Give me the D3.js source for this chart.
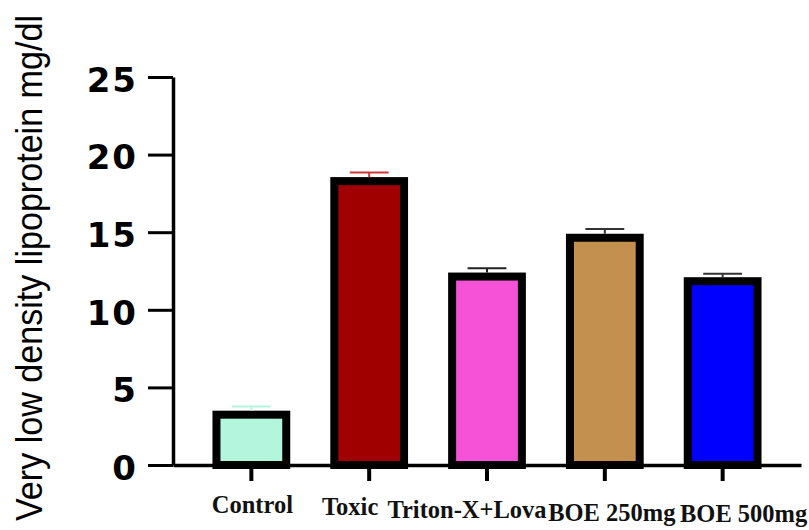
<!DOCTYPE html>
<html>
<head>
<meta charset="utf-8">
<script src="https://cdn.jsdelivr.net/npm/d3@7"></script>
<style>
  body { margin: 0; background: #fff; }
  svg { display: block; }
</style>
</head>
<body>
<div id="chart"></div>
<script>
var groups = ["Control", "Toxic", "Triton-X+Lova", "BOE 250mg", "BOE 500mg"];
var means = [3.5, 18.55, 12.4, 14.9, 12.1];
var errors = [0.27, 0.3, 0.27, 0.3, 0.22];
var fills = ["#b3f5dd", "#a00000", "#f552d8", "#c49050", "#0000ff"];
var errColors = ["#b3f5dd", "#cc3838", "#222222", "#333333", "#333333"];
var yTicks = [0, 5, 10, 15, 20, 25];
var yTitle = "Very low density lipoprotein mg/dl";

var width = 809, height = 530;
var plotLeft = 173, plotRight = 801, plotTop = 77, plotBottom = 465;
var borderW = 8;

// the category labels sit in a squeezed row, not centred on their ticks
var labelShift = [1, -19, -20, 7, 21];
var labelDrop = [0, 2, 5, 8, 9];

var svg = d3.select("#chart").append("svg")
  .attr("width", width)
  .attr("height", height);

var x = d3.scaleBand()
  .domain(groups)
  .range([plotLeft, plotRight])
  .paddingInner(0.34)
  .paddingOuter(0.335);

var y = d3.scaleLinear()
  .domain([0, 25])
  .range([plotBottom, plotTop]);

var bw = x.bandwidth();

// bars, border drawn inside so the outer edge sits on the value
svg.selectAll(".bar")
  .data(groups)
  .enter()
  .append("rect")
  .attr("class", "bar")
  .attr("x", function(d) { return x(d) + borderW / 2; })
  .attr("y", function(d, i) { return y(means[i]) + borderW / 2; })
  .attr("width", bw - borderW)
  .attr("height", function(d, i) { return y(0) - y(means[i]) - borderW / 2; })
  .attr("fill", function(d, i) { return fills[i]; })
  .attr("stroke", "#000")
  .attr("stroke-width", borderW);

// error bars (upper only)
var err = svg.selectAll(".err")
  .data(groups)
  .enter()
  .append("g")
  .attr("class", "err")
  .attr("stroke", function(d, i) { return errColors[i]; })
  .attr("stroke-width", 2);

err.append("line")
  .attr("x1", function(d) { return x(d) + bw / 2; })
  .attr("x2", function(d) { return x(d) + bw / 2; })
  .attr("y1", function(d, i) { return y(means[i]); })
  .attr("y2", function(d, i) { return y(means[i] + errors[i]); });

err.append("line")
  .attr("x1", function(d) { return x(d) + bw / 4; })
  .attr("x2", function(d) { return x(d) + bw * 3 / 4; })
  .attr("y1", function(d, i) { return y(means[i] + errors[i]); })
  .attr("y2", function(d, i) { return y(means[i] + errors[i]); });

// y axis
var yAxis = svg.append("g")
  .attr("transform", "translate(" + plotLeft + ",0)")
  .call(d3.axisLeft(y).tickValues(yTicks).tickSize(25).tickPadding(10).tickSizeOuter(0));

yAxis.select(".domain").attr("stroke-width", 3.5);
yAxis.selectAll(".tick line").attr("stroke-width", 3);
yAxis.selectAll(".tick text")
  .attr("fill", "#000")
  .attr("dy", "0.42em")
  .style("font-family", "'DejaVu Sans', Verdana, sans-serif")
  .style("font-weight", "bold")
  .style("font-size", "34px")
  .style("letter-spacing", "2px");

// x axis
var xAxis = svg.append("g")
  .attr("transform", "translate(0," + plotBottom + ")")
  .call(d3.axisBottom(x).tickSize(16).tickSizeOuter(0).tickFormat(""));

xAxis.select(".domain").attr("stroke-width", 3.5);
xAxis.selectAll(".tick line").attr("stroke-width", 4);

svg.selectAll(".xlabel")
  .data(groups)
  .enter()
  .append("text")
  .attr("class", "xlabel")
  .attr("x", function(d, i) { return x(d) + bw / 2 + labelShift[i]; })
  .attr("y", function(d, i) { return 513 + labelDrop[i]; })
  .attr("text-anchor", "middle")
  .style("font-family", "'Liberation Serif', 'Times New Roman', serif")
  .style("font-weight", "bold")
  .style("font-size", "24.5px")
  .style("fill", "#111")
  .text(function(d) { return d; });

// y title
svg.append("text")
  .attr("transform", "translate(42,268) rotate(-90)")
  .attr("text-anchor", "middle")
  .attr("textLength", 506)
  .attr("lengthAdjust", "spacingAndGlyphs")
  .style("font-family", "'Liberation Sans', Arial, sans-serif")
  .style("font-size", "36px")
  .style("fill", "#000")
  .text(yTitle);
</script>
</body>
</html>
